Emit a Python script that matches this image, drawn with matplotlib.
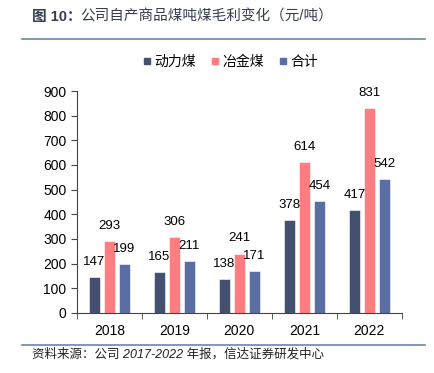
import numpy as np
import matplotlib
matplotlib.use("Agg")
from matplotlib import pyplot as plt
from matplotlib.lines import Line2D

plt.rcParams['font.family'] = ['Liberation Sans', 'Noto Sans CJK SC', 'DejaVu Sans']

years = ['2018', '2019', '2020', '2021', '2022']
thermal = [147, 165, 138, 378, 417]
coking = [293, 306, 241, 614, 831]
total = [199, 211, 171, 454, 542]
series_names = ['动力煤', '冶金煤', '合计']
colors = ['#44506f', '#ff7c80', '#5a6ea4']

fig = plt.figure(figsize=(4.34, 3.73), dpi=100)
ax = fig.add_axes([0.177, 0.161, 0.749, 0.595])

x = np.arange(len(years))
step = 0.23
width = 0.175
for i, (vals, name, c) in enumerate(zip([thermal, coking, total], series_names, colors)):
    pos = x + (i - 1) * step
    ax.bar(pos, vals, width, color=c, edgecolor='white', linewidth=0.4, label=name)
    for p, v in zip(pos, vals):
        ax.annotate(str(v), (p, v), xytext=(0, 6.5), textcoords='offset points',
                    ha='center', va='bottom', fontsize=9.5, color='black')

ax.set_xlim(-0.5, 4.5)
ax.set_ylim(0, 900)
ax.set_yticks(range(0, 901, 100))
ax.set_xticks(x)
ax.set_xticklabels(years)
ax.set_xticks(np.arange(-0.5, 5, 1), minor=True)
ax.tick_params(axis='x', which='major', length=0, pad=8, labelsize=10)
ax.tick_params(axis='x', which='minor', length=4, direction='out', color='#444444')
ax.tick_params(axis='y', length=4, direction='out', labelsize=10, color='#444444')
for s in ['top', 'right']:
    ax.spines[s].set_visible(False)
for s in ['left', 'bottom']:
    ax.spines[s].set_color('#444444')

handles = [Line2D([0], [0], marker='s', linestyle='', markersize=5, color=c) for c in colors]
fig.legend(handles, series_names, loc='center', bbox_to_anchor=(0.53, 0.833), ncol=3,
           frameon=False, fontsize=10, handletextpad=0.1, columnspacing=1.0, handlelength=0.8)

# title: bold figure number, regular text
fig.text(0.074, 0.955, '图 10：', fontsize=10.5, color='#333f50',
         ha='left', va='center', fontweight='bold')
fig.text(0.186, 0.955, '公司自产商品煤吨煤毛利变化（元/吨）', fontsize=10.5,
         color='#333f50', ha='left', va='center')
fig.add_artist(Line2D([0.05, 0.98], [0.895, 0.895], color='#6a86ad', linewidth=1.2))
fig.add_artist(Line2D([0.05, 0.98], [0.075, 0.075], color='#6a86ad', linewidth=1.2))
fig.text(0.074, 0.05, '资料来源：公司 2017-2022 年报，信达证券研发中心', fontsize=9,
         color='#222222', ha='left', va='center', style='italic')

fig.savefig('out.png', dpi=100)
